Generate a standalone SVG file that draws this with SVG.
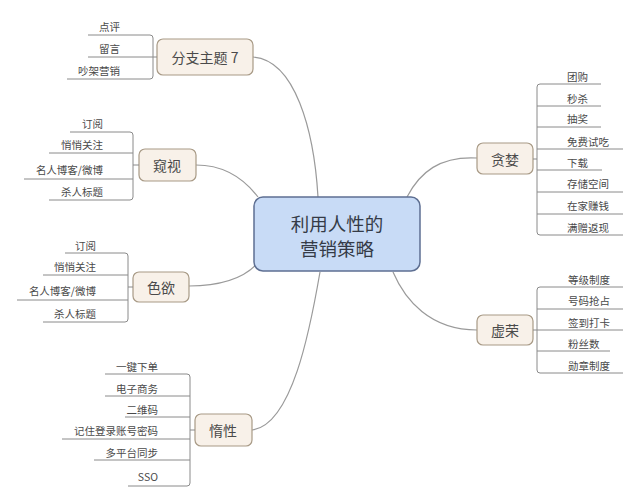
<svg xmlns="http://www.w3.org/2000/svg" width="640" height="503" viewBox="0 0 640 503">
<style>
.bg{fill:#ffffff}
.node rect{fill:#f8f1e9;stroke:#a89a86;stroke-width:1.2}
.node text{font-family:"Noto Sans CJK SC","Noto Sans",sans-serif;font-size:14px;fill:#4a4a4a;text-anchor:middle;dominant-baseline:central}
.center rect{fill:#c8dbf6;stroke:#5e6f92;stroke-width:1.5}
.center text{font-family:"Noto Sans CJK SC","Noto Sans",sans-serif;font-size:18.5px;fill:#353b47;text-anchor:middle;dominant-baseline:central}
.leaf{font-family:"Noto Sans CJK SC","Noto Sans",sans-serif;font-size:10.5px;fill:#4a4a4a;dominant-baseline:central}
.l{text-anchor:end}
.r{text-anchor:start}
.br{fill:none;stroke:#8a8a8a;stroke-width:1}
.conn{fill:none;stroke:#9a9a9a;stroke-width:1.2}
</style>
<rect class="bg" x="0" y="0" width="640" height="503"/>
<g id="connectors">
<path class="conn" d="M253,57 C295,60 314,130 318,197"/>
<path class="conn" d="M196,165 C225,165 245,180 258,197"/>
<path class="conn" d="M189,286 C225,286 245,276 256,265"/>
<path class="conn" d="M252,430 C292,425 310,330 320,272"/>
<path class="conn" d="M477,158 C440,156 420,172 407,197"/>
<path class="conn" d="M477,330 C430,330 405,300 393,272"/>
</g>
<g id="center" class="center">
<rect x="254" y="197" width="166" height="74" rx="9"/>
<text x="337" y="223">利用人性的</text>
<text x="337" y="248">营销策略</text>
</g>
<g id="branch7">
<g class="node"><rect x="157" y="39" width="96" height="36" rx="6"/><text x="205" y="57">分支主题 7</text></g>
<path class="br" d="M88,35 H150 Q153,35 153,38 V76 Q153,79 150,79 H67 M88,57 H157"/>
<text class="leaf l" x="120" y="26">点评</text>
<text class="leaf l" x="120" y="48">留言</text>
<text class="leaf l" x="120" y="70">吵架营销</text>
</g>
<g id="kuishi">
<g class="node"><rect x="139" y="149" width="57" height="32" rx="6"/><text x="167" y="165">窥视</text></g>
<path class="br" d="M70,132 H130 Q133,132 133,135 V197 Q133,200 130,200 H49 M49,153 H133 M24,179 H133 M133,165 H139"/>
<text class="leaf l" x="103" y="123">订阅</text>
<text class="leaf l" x="103" y="144">悄悄关注</text>
<text class="leaf l" x="103" y="169">名人博客/微博</text>
<text class="leaf l" x="103" y="191">杀人标题</text>
</g>
<g id="seyu">
<g class="node"><rect x="133" y="272" width="56" height="30" rx="6"/><text x="161" y="287">色欲</text></g>
<path class="br" d="M65,253 H125 Q128,253 128,256 V319 Q128,322 125,322 H43 M43,275 H128 M17,300 H128 M128,287 H133"/>
<text class="leaf l" x="96" y="245">订阅</text>
<text class="leaf l" x="96" y="266">悄悄关注</text>
<text class="leaf l" x="96" y="290">名人博客/微博</text>
<text class="leaf l" x="96" y="313">杀人标题</text>
</g>
<g id="duoxing">
<g class="node"><rect x="195" y="414" width="57" height="32" rx="6"/><text x="223" y="430">惰性</text></g>
<path class="br" d="M105,374 H187 Q190,374 190,377 V483 Q190,486 187,486 H128 M105,396 H190 M125,417 H190 M62,439 H190 M94,460 H190 M190,430 H195"/>
<text class="leaf l" x="158" y="366">一键下单</text>
<text class="leaf l" x="158" y="388">电子商务</text>
<text class="leaf l" x="158" y="409">二维码</text>
<text class="leaf l" x="158" y="430">记住登录账号密码</text>
<text class="leaf l" x="158" y="452">多平台同步</text>
<text class="leaf l" x="158" y="476">SSO</text>
</g>
<g id="tanlan">
<g class="node"><rect x="477" y="143" width="56" height="31" rx="6"/><text x="505" y="159">贪婪</text></g>
<path class="br" d="M601,84 H540 Q537,84 537,87 V232 Q537,235 540,235 H623 M537,106 H601 M537,127 H601 M537,149 H623 M537,170 H602 M537,192 H623 M537,214 H623 M533,159 H537"/>
<text class="leaf r" x="567" y="76">团购</text>
<text class="leaf r" x="567" y="98">秒杀</text>
<text class="leaf r" x="567" y="118">抽奖</text>
<text class="leaf r" x="567" y="141">免费试吃</text>
<text class="leaf r" x="567" y="162">下载</text>
<text class="leaf r" x="567" y="183">存储空间</text>
<text class="leaf r" x="567" y="205">在家赚钱</text>
<text class="leaf r" x="567" y="227">满赠返现</text>
</g>
<g id="xurong">
<g class="node"><rect x="477" y="315" width="56" height="30" rx="6"/><text x="505" y="330">虚荣</text></g>
<path class="br" d="M623,287 H540 Q537,287 537,290 V370 Q537,373 540,373 H623 M537,309 H623 M533,330 H623 M537,351 H610"/>
<text class="leaf r" x="568" y="279">等级制度</text>
<text class="leaf r" x="568" y="300">号码抢占</text>
<text class="leaf r" x="568" y="322">签到打卡</text>
<text class="leaf r" x="568" y="343">粉丝数</text>
<text class="leaf r" x="568" y="365">勋章制度</text>
</g>
</svg>
